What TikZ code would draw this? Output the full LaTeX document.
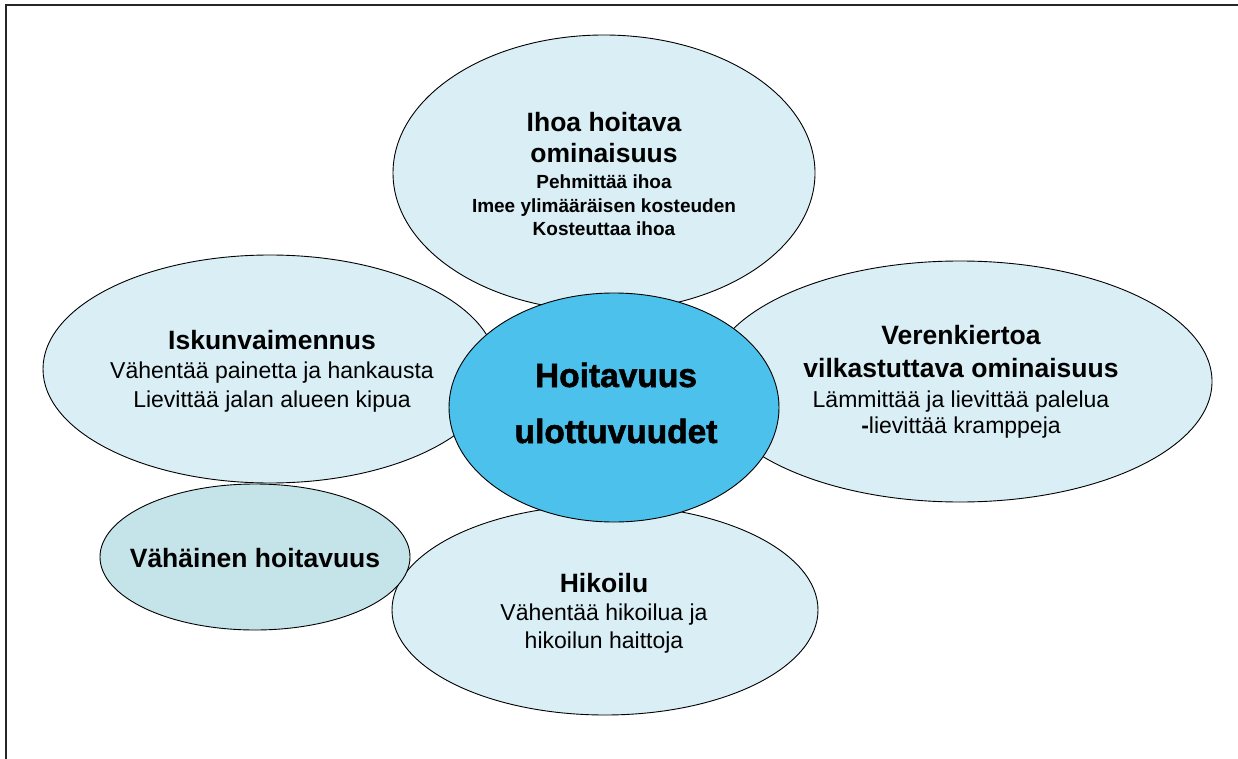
\documentclass[tikz,border=0pt]{standalone}
\usepackage{fontspec}
\setmainfont{Liberation Sans}
\newfontface\corefam{Liberation Sans Bold}[FakeBold=1.6]
\usetikzlibrary{shapes.geometric}
\definecolor{bubble}{HTML}{D9EEF5}
\definecolor{bubbledark}{HTML}{C5E4E9}
\definecolor{core}{HTML}{4BC1EB}
\tikzset{
  bub/.style={ellipse, draw=black, line width=0.9pt, fill=bubble, inner sep=0pt},
  head/.style={anchor=base, inner sep=0pt, font=\fontsize{26.5}{30}\selectfont\bfseries},
  body/.style={anchor=base, inner sep=0pt, font=\fontsize{23}{27}\selectfont},
  smallbold/.style={anchor=base, inner sep=0pt, font=\fontsize{19}{22}\selectfont\bfseries},
  corefont/.style={anchor=base, inner sep=0pt, font=\corefam\fontsize{33.5}{40}\selectfont},
  frameline/.style={line width=2pt, black!85},
}
\begin{document}
\begin{tikzpicture}[x=1pt,y=-1pt]
\useasboundingbox (0,0) rectangle (1238,759);
% frame
\coordinate (fa) at (6,759);
\coordinate (fb) at (6,5);
\coordinate (fc) at (1238,5);
\draw[frameline] (fa) -- (fb) -- (fc);
% bubbles
\node[bub, minimum width=422pt, minimum height=276pt] (top) at (604,173) {};
\node[bub, minimum width=454pt, minimum height=228pt] (left) at (270,369) {};
\node[bub, minimum width=504pt, minimum height=241pt] (right) at (960,381.5) {};
\node[bub, minimum width=426pt, minimum height=210pt] (bottom) at (605,610) {};
\node[bub, fill=bubbledark, minimum width=310pt, minimum height=146pt] (low) at (255,557) {};
\node[bub, fill=core, minimum width=330pt, minimum height=229pt] (center) at (614,407.5) {};
% top texts
\node[head] (t1) at (604,132) {Ihoa hoitava};
\node[head] (t2) at (604,163) {ominaisuus};
\node[smallbold] (t3) at (604,189) {Pehmittää ihoa};
\node[smallbold] (t4) at (604,213) {Imee ylimääräisen kosteuden};
\node[smallbold] (t5) at (604,236) {Kosteuttaa ihoa};
% center
\node[corefont] (c1) at (616,387) {Hoitavuus};
\node[corefont] (c2) at (616,443) {ulottuvuudet};
% left
\node[head] (l1) at (272,349) {Iskunvaimennus};
\node[body] (l2) at (272,378) {Vähentää painetta ja hankausta};
\node[body] (l3) at (272,407) {Lievittää jalan alueen kipua};
% right
\node[head] (r1) at (961,344) {Verenkiertoa};
\node[head] (r2) at (961,377) {vilkastuttava ominaisuus};
\node[body] (r3) at (961,407) {Lämmittää ja lievittää palelua};
\node[body] (r4) at (961,433) {{\bfseries -}lievittää kramppeja};
% bottom
\node[head] (b1) at (604,592) {Hikoilu};
\node[body] (b2) at (604,620) {Vähentää hikoilua ja};
\node[body] (b3) at (604,648) {hikoilun haittoja};
% low
\node[head] (v1) at (255,567) {Vähäinen hoitavuus};
\end{tikzpicture}
\end{document}
